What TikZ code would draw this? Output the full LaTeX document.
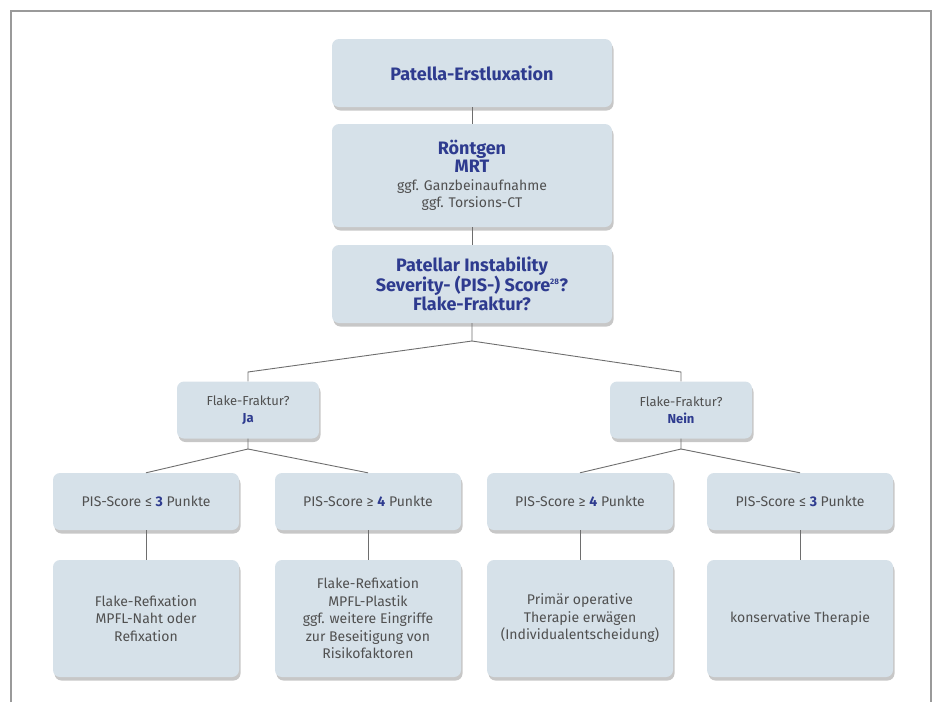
\documentclass[tikz,border=0pt]{standalone}
\usepackage{fontspec}
\setmainfont{Fira Sans}
\usetikzlibrary{shadows}
\definecolor{boxfill}{HTML}{D6E1E9}
\definecolor{headblue}{HTML}{2E3B8F}
\definecolor{txtgray}{HTML}{505050}
\definecolor{linegray}{HTML}{6E6E6E}
\definecolor{framegray}{HTML}{9A9A9A}
\newcommand{\bluebf}[1]{{\color{headblue}\bfseries #1}}
\newcommand{\bigbf}{\fontsize{18}{19.5}\selectfont\bfseries}

\begin{document}
\begin{tikzpicture}[x=1pt,y=-1pt,
  bnode/.style={fill=boxfill, rounded corners=7pt, align=center, inner sep=2pt, text=txtgray,
    font=\fontsize{14}{17.5}\selectfont,
    drop shadow={shadow xshift=1.5pt, shadow yshift=-3.5pt, fill=black!55, opacity=0.4}},
  hnode/.style={bnode, minimum width=280pt, text=headblue, font=\fontsize{18}{19.5}\selectfont\bfseries},
  qnode/.style={bnode, minimum width=142pt, minimum height=57pt, font=\fontsize{13}{17}\selectfont},
  snode/.style={bnode, minimum width=186pt, minimum height=57pt},
  tnode/.style={bnode, minimum width=186pt, minimum height=117pt},
  conn/.style={draw=linegray, line width=0.9pt}]
    \useasboundingbox (0,0) rectangle (933,702);
    \draw[framegray, line width=1.5pt] (11,702) -- (11,11) -- (931,11) -- (931,702);

    \node[hnode, minimum height=68pt] (erst) at (472,73) {Patella-Erstluxation};
    \node[bnode, minimum width=280pt, minimum height=103pt] (roent) at (472,175.5)
      {\bluebf{\bigbf Röntgen}\\[1pt]\bluebf{\bigbf MRT}\\ggf. Ganzbeinaufnahme\\ggf. Torsions-CT};
    \node[hnode, minimum height=78pt] (pis) at (472,284)
      {Patellar Instability\\Severity- (PIS-) Score\textsuperscript{\fontsize{8}{8}\selectfont 28}?\\Flake-Fraktur?};

    \node[qnode] (ja) at (248,410) {Flake-Fraktur?\\\bluebf{Ja}};
    \node[qnode] (nein) at (681,410) {Flake-Fraktur?\\\bluebf{Nein}};

    \node[snode] (jaklein) at (146,501.5) {PIS-Score ≤ \bluebf{3} Punkte};
    \node[snode] (jagross) at (368,501.5) {PIS-Score ≥ \bluebf{4} Punkte};
    \node[snode] (neingross) at (580,501.5) {PIS-Score ≥ \bluebf{4} Punkte};
    \node[snode] (neinklein) at (800,501.5) {PIS-Score ≤ \bluebf{3} Punkte};

    \node[tnode] (refix) at (146,618.5) {Flake-Refixation\\MPFL-Naht oder\\Refixation};
    \node[tnode] (plastik) at (368,618.5) {Flake-Refixation\\MPFL-Plastik\\ggf. weitere Eingriffe\\zur Beseitigung von\\Risikofaktoren};
    \node[tnode] (operativ) at (580,618.5) {Primär operative\\Therapie erwägen\\(Individualentscheidung)};
    \node[tnode] (konserv) at (800,618.5) {konservative Therapie};

    \coordinate (apex) at (472,341);
    \coordinate (jaknick) at (248,372);
    \coordinate (neinknick) at (681,372);
    \coordinate (jagabel) at (248,449);
    \coordinate (neingabel) at (681,449);

    \draw[conn] (erst) -- (roent);
    \draw[conn] (roent) -- (pis);
    \draw[conn] (pis.south) -- (apex) -- (jaknick) -- (ja.north);
    \draw[conn] (apex) -- (neinknick) -- (nein.north);
    \draw[conn] (ja.south) -- (jagabel) -- (jaklein.north);
    \draw[conn] (jagabel) -- (jagross.north);
    \draw[conn] (nein.south) -- (neingabel) -- (neingross.north);
    \draw[conn] (neingabel) -- (neinklein.north);
    \draw[conn] (jaklein) -- (refix);
    \draw[conn] (jagross) -- (plastik);
    \draw[conn] (neingross) -- (operativ);
    \draw[conn] (neinklein) -- (konserv);
\end{tikzpicture}
\end{document}
